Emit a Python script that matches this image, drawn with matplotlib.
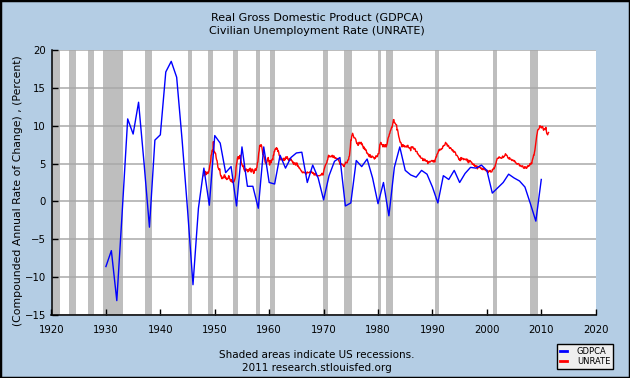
import numpy as np
import matplotlib.pyplot as plt
from matplotlib.patches import Rectangle
from matplotlib.lines import Line2D

# GDPCA, annual % change, 1930-2010
gdp_years = np.arange(1930, 2011)
gdpca = [-8.6, -6.5, -13.1, -1.3, 10.9, 8.9, 13.1, 5.1, -3.4, 8.1,
         8.8, 17.1, 18.5, 16.4, 8.1, -1.1, -11.0, -0.9, 4.4, -0.5,
         8.7, 7.7, 3.8, 4.6, -0.6, 7.2, 2.0, 2.0, -0.9, 7.2,
         2.5, 2.3, 6.1, 4.4, 5.8, 6.4, 6.5, 2.5, 4.8, 3.1,
         0.2, 3.4, 5.3, 5.8, -0.6, -0.2, 5.4, 4.6, 5.6, 3.1,
         -0.3, 2.5, -1.9, 4.5, 7.2, 4.1, 3.5, 3.2, 4.1, 3.6,
         1.9, -0.2, 3.4, 2.9, 4.1, 2.5, 3.7, 4.5, 4.4, 4.8,
         4.1, 1.1, 1.8, 2.5, 3.6, 3.1, 2.7, 1.9, -0.3, -2.6, 2.9]

# UNRATE, monthly from Jan 1948
unrate_start = 1948
unrate = [
    3.4, 3.8, 4.0, 3.9, 3.5, 3.6, 3.6, 3.9, 3.8, 3.7, 3.8, 4.0,
    4.3, 4.7, 5.0, 5.3, 6.1, 6.2, 6.7, 6.8, 6.6, 7.9, 6.4, 6.6,
    6.5, 6.4, 6.3, 5.8, 5.5, 5.4, 5.0, 4.5, 4.4, 4.2, 4.2, 4.3,
    3.7, 3.4, 3.4, 3.1, 3.0, 3.2, 3.1, 3.1, 3.3, 3.5, 3.5, 3.1,
    3.2, 3.1, 2.9, 2.9, 3.0, 3.0, 3.2, 3.4, 3.1, 3.0, 2.8, 2.7,
    2.9, 2.6, 2.6, 2.7, 2.5, 2.5, 2.6, 2.7, 2.9, 3.1, 3.5, 4.5,
    4.9, 5.2, 5.7, 5.9, 5.9, 5.6, 5.8, 6.0, 6.1, 5.7, 5.3, 5.0,
    4.9, 4.7, 4.6, 4.7, 4.3, 4.2, 4.0, 4.2, 4.1, 4.3, 4.2, 4.2,
    4.0, 3.9, 4.2, 4.0, 4.3, 4.3, 4.4, 4.1, 3.9, 3.9, 4.3, 4.2,
    4.2, 3.9, 3.7, 3.9, 4.1, 4.3, 4.2, 4.1, 4.4, 4.5, 5.1, 5.2,
    5.8, 6.4, 6.7, 7.4, 7.4, 7.3, 7.5, 7.4, 7.1, 6.7, 6.2, 6.2,
    6.0, 5.9, 5.6, 5.2, 5.1, 5.0, 5.1, 5.2, 5.5, 5.7, 5.8, 5.3,
    5.2, 4.8, 5.4, 5.2, 5.1, 5.4, 5.5, 5.6, 5.5, 6.1, 6.1, 6.6,
    6.6, 6.9, 6.9, 7.0, 7.1, 6.9, 7.0, 6.6, 6.7, 6.5, 6.1, 6.0,
    5.8, 5.5, 5.6, 5.6, 5.5, 5.5, 5.4, 5.7, 5.6, 5.4, 5.7, 5.5,
    5.7, 5.9, 5.7, 5.7, 5.9, 5.6, 5.6, 5.4, 5.5, 5.5, 5.7, 5.5,
    5.6, 5.4, 5.4, 5.3, 5.1, 5.2, 4.9, 5.0, 5.1, 5.1, 4.8, 5.0,
    4.9, 5.1, 4.7, 4.8, 4.6, 4.6, 4.4, 4.4, 4.3, 4.2, 4.1, 4.0,
    4.0, 3.8, 3.8, 3.8, 3.9, 3.8, 3.8, 3.8, 3.7, 3.7, 3.6, 3.8,
    3.9, 3.8, 3.8, 3.8, 3.8, 3.9, 3.8, 3.8, 3.8, 4.0, 3.9, 3.8,
    3.7, 3.8, 3.7, 3.5, 3.5, 3.7, 3.7, 3.5, 3.4, 3.4, 3.4, 3.4,
    3.4, 3.4, 3.4, 3.4, 3.4, 3.5, 3.5, 3.5, 3.7, 3.7, 3.5, 3.5,
    3.9, 4.2, 4.4, 4.6, 4.8, 4.9, 5.0, 5.1, 5.4, 5.5, 5.9, 6.1,
    5.9, 5.9, 6.0, 5.9, 5.9, 5.9, 6.0, 6.1, 6.0, 5.8, 6.0, 6.0,
    5.8, 5.7, 5.8, 5.7, 5.7, 5.7, 5.6, 5.6, 5.5, 5.6, 5.3, 5.2,
    4.9, 5.0, 4.9, 5.0, 4.9, 4.9, 4.8, 4.8, 4.8, 4.6, 4.8, 4.9,
    5.1, 5.2, 5.1, 5.1, 5.1, 5.4, 5.5, 5.5, 5.9, 6.0, 6.6, 7.2,
    8.1, 8.1, 8.6, 8.8, 9.0, 8.8, 8.6, 8.4, 8.4, 8.4, 8.3, 8.2,
    7.9, 7.7, 7.6, 7.7, 7.4, 7.6, 7.8, 7.8, 7.6, 7.7, 7.8, 7.8,
    7.5, 7.6, 7.4, 7.2, 7.0, 7.2, 6.9, 7.0, 6.8, 6.8, 6.8, 6.4,
    6.4, 6.3, 6.3, 6.1, 6.0, 5.9, 6.2, 5.9, 6.0, 5.8, 5.9, 6.0,
    5.9, 5.9, 5.8, 5.8, 5.6, 5.7, 5.7, 6.0, 5.9, 6.0, 5.9, 6.0,
    6.3, 6.3, 6.3, 6.9, 7.5, 7.6, 7.8, 7.7, 7.5, 7.5, 7.5, 7.2,
    7.5, 7.4, 7.4, 7.2, 7.5, 7.5, 7.2, 7.4, 7.6, 7.9, 8.3, 8.5,
    8.6, 8.9, 9.0, 9.3, 9.4, 9.6, 9.8, 9.8, 10.1, 10.4, 10.8, 10.8,
    10.4, 10.4, 10.3, 10.2, 10.1, 10.1, 9.4, 9.5, 9.2, 8.8, 8.5, 8.3,
    8.0, 7.8, 7.8, 7.7, 7.4, 7.2, 7.5, 7.5, 7.3, 7.4, 7.2, 7.3,
    7.3, 7.2, 7.2, 7.3, 7.2, 7.4, 7.4, 7.1, 7.1, 7.1, 7.0, 7.0,
    6.7, 7.2, 7.2, 7.1, 7.2, 7.2, 7.0, 6.9, 7.0, 7.0, 6.9, 6.6,
    6.6, 6.6, 6.6, 6.3, 6.3, 6.2, 6.1, 6.0, 5.9, 6.0, 5.8, 5.7,
    5.7, 5.7, 5.7, 5.4, 5.6, 5.4, 5.4, 5.6, 5.4, 5.4, 5.3, 5.3,
    5.4, 5.2, 5.0, 5.2, 5.2, 5.3, 5.2, 5.2, 5.3, 5.3, 5.4, 5.4,
    5.4, 5.3, 5.2, 5.4, 5.4, 5.2, 5.5, 5.7, 5.9, 5.9, 6.2, 6.3,
    6.4, 6.6, 6.8, 6.7, 6.9, 6.9, 6.8, 6.9, 6.9, 7.0, 7.0, 7.3,
    7.3, 7.4, 7.4, 7.4, 7.6, 7.8, 7.7, 7.6, 7.6, 7.3, 7.4, 7.4,
    7.3, 7.1, 7.0, 7.1, 7.1, 7.0, 6.9, 6.8, 6.7, 6.8, 6.6, 6.5,
    6.6, 6.6, 6.5, 6.4, 6.1, 6.1, 6.1, 6.0, 5.9, 5.8, 5.6, 5.5,
    5.6, 5.4, 5.4, 5.8, 5.6, 5.6, 5.7, 5.7, 5.6, 5.5, 5.6, 5.6,
    5.6, 5.5, 5.5, 5.6, 5.6, 5.3, 5.5, 5.1, 5.2, 5.2, 5.4, 5.4,
    5.3, 5.2, 5.2, 5.1, 4.9, 5.0, 4.9, 4.8, 4.9, 4.7, 4.6, 4.7,
    4.6, 4.6, 4.7, 4.3, 4.4, 4.5, 4.5, 4.5, 4.6, 4.5, 4.4, 4.4,
    4.3, 4.4, 4.2, 4.3, 4.2, 4.3, 4.3, 4.2, 4.2, 4.1, 4.1, 4.0,
    4.0, 4.1, 4.0, 3.8, 4.0, 4.0, 4.0, 4.1, 3.9, 3.9, 3.9, 3.9,
    4.2, 4.2, 4.3, 4.4, 4.3, 4.5, 4.6, 4.9, 5.0, 5.3, 5.5, 5.7,
    5.7, 5.7, 5.7, 5.9, 5.8, 5.8, 5.8, 5.7, 5.7, 5.7, 5.9, 6.0,
    5.8, 5.9, 5.9, 6.0, 6.1, 6.3, 6.2, 6.1, 6.1, 6.0, 5.8, 5.7,
    5.7, 5.6, 5.8, 5.6, 5.6, 5.6, 5.5, 5.4, 5.4, 5.5, 5.4, 5.4,
    5.3, 5.4, 5.2, 5.2, 5.1, 5.0, 5.0, 4.9, 5.0, 5.0, 5.0, 4.9,
    4.7, 4.8, 4.7, 4.7, 4.6, 4.6, 4.7, 4.7, 4.5, 4.4, 4.5, 4.4,
    4.6, 4.5, 4.4, 4.5, 4.4, 4.6, 4.7, 4.6, 4.7, 4.7, 4.7, 5.0,
    5.0, 4.9, 5.1, 5.0, 5.4, 5.6, 5.8, 6.1, 6.1, 6.5, 6.8, 7.3,
    7.8, 8.3, 8.7, 9.0, 9.4, 9.5, 9.5, 9.6, 9.8, 10.0, 9.9, 9.9,
    9.7, 9.8, 9.8, 9.9, 9.6, 9.4, 9.5, 9.6, 9.5, 9.5, 9.8, 9.4,
    9.0, 8.9, 8.8, 9.0, 9.1,
]

# NBER recessions (peak year, month, trough year, month)
recessions = [(1920, 1, 1921, 7), (1923, 5, 1924, 7), (1926, 10, 1927, 11),
              (1929, 8, 1933, 3), (1937, 5, 1938, 6), (1945, 2, 1945, 10),
              (1948, 11, 1949, 10), (1953, 7, 1954, 5), (1957, 8, 1958, 4),
              (1960, 4, 1961, 2), (1969, 12, 1970, 11), (1973, 11, 1975, 3),
              (1980, 1, 1980, 7), (1981, 7, 1982, 11), (1990, 7, 1991, 3),
              (2001, 3, 2001, 11), (2007, 12, 2009, 6)]

bg = '#B4CDE4'
fig = plt.figure(figsize=(6.3, 3.78), dpi=100, facecolor=bg)
ax = fig.add_axes([51.5/630, 1-315/378, (595.7-51.5)/630, (315-50)/378])
ax.set_facecolor('white')

for y0, m0, y1, m1 in recessions:
    ax.axvspan(y0 + (m0-1)/12 - 0.08, y1 + m1/12 - 0.08, color='#BEBEBE', lw=0, zorder=1)

ax.set_yticks(np.arange(-15, 21, 5))
ax.yaxis.grid(True, color='#A9A9A9', lw=1.1, zorder=2)
ax.set_axisbelow(False)

x_un = unrate_start + np.arange(len(unrate)) / 12
ax.plot(gdp_years, gdpca, color='#0000FF', lw=1.0, zorder=4)
ax.plot(x_un, unrate, color='#FF0000', lw=1.0, zorder=3)

ax.set_xlim(1920, 2020)
ax.set_ylim(-15, 20)
ax.set_xticks(np.arange(1920, 2021, 10))
for s in ['top', 'right']:
    ax.spines[s].set_visible(False)
for s in ['left', 'bottom']:
    ax.spines[s].set_color('black')
    ax.spines[s].set_linewidth(1.1)
    ax.spines[s].set_zorder(5)
ax.tick_params(direction='in', length=4, width=1, colors='black', labelsize=7.3)
ax.tick_params(axis='x', pad=7)
ax.tick_params(axis='y', pad=4)

fig.text(0.503, 1-17/378, 'Real Gross Domestic Product (GDPCA)', ha='center', va='center', fontsize=8)
fig.text(0.503, 1-31/378, 'Civilian Unemployment Rate (UNRATE)', ha='center', va='center', fontsize=8)
fig.text(18/630, 1-191/378, '(Compounded Annual Rate of Change) , (Percent)', rotation=90,
         ha='center', va='center', fontsize=7.8)
fig.text(317/630, 1-355/378, 'Shaded areas indicate US recessions.', ha='center', va='center', fontsize=7.5)
fig.text(317/630, 1-368/378, '2011 research.stlouisfed.org', ha='center', va='center', fontsize=7.5)

handles = [Line2D([], [], color='#0000FF', lw=2), Line2D([], [], color='#FF0000', lw=2)]
leg = fig.legend(handles, ['GDPCA', 'UNRATE'], loc='center', bbox_to_anchor=(585.2/630, 1-356.7/378),
                 fontsize=6, frameon=True, fancybox=False, handlelength=0.8, handletextpad=1.2,
                 borderpad=0.35, labelspacing=0.15, borderaxespad=0)
leg.get_frame().set_facecolor('#EEEEEE')
leg.get_frame().set_edgecolor('black')
leg.get_frame().set_linewidth(1)
leg.get_frame().set_alpha(1)

fig.patches.append(Rectangle((0, 0), 1, 1, transform=fig.transFigure, fill=False,
                             ec='black', lw=2.5, zorder=10))

plt.savefig('out.png', dpi=100, facecolor=bg)
